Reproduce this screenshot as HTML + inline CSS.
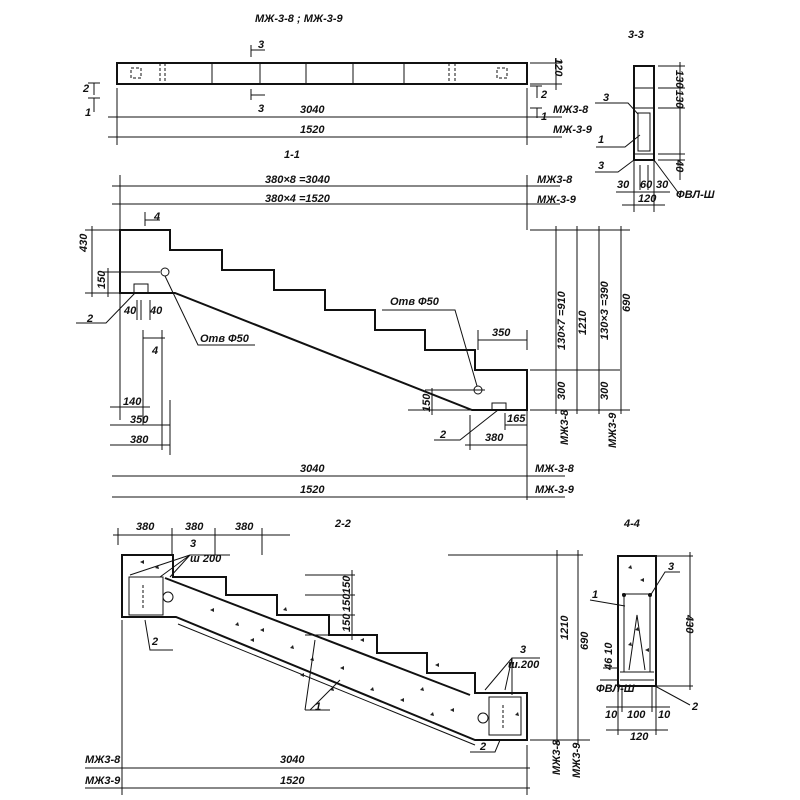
<!DOCTYPE html>
<html><head><meta charset="utf-8"><style>
html,body{margin:0;padding:0;background:#fff}
svg{display:block}
text{font-family:"Liberation Sans",sans-serif;font-style:italic;font-size:11px;fill:#111;font-weight:bold}
.t{stroke:#111;stroke-width:1;fill:none}
.b{stroke:#111;stroke-width:2;fill:none}
.d{stroke:#111;stroke-width:1;fill:none;stroke-dasharray:3 2}
.s{fill:#222;stroke:none}
</style></head><body>
<svg width="800" height="800" viewBox="0 0 800 800" xmlns="http://www.w3.org/2000/svg">
<text x="255" y="22" font-size="12">МЖ-3-8 ; МЖ-3-9</text>
<text x="628" y="38" font-size="13">3-3</text>
<rect class="b" x="117" y="63" width="410" height="21"/>
<path class="t" d="M212 63V84M260 63V84M306 63V84M353 63V84M404 63V84"/>
<path class="d" d="M160 63V84M165 63V84M449 63V84M455 63V84"/>
<rect class="d" x="131" y="68" width="10" height="10"/>
<rect class="d" x="497" y="68" width="10" height="10"/>
<path class="t" d="M251 45V57M251 50H265M251 89V100M251 95H265"/>
<text x="258" y="48">3</text><text x="258" y="112">3</text>
<path class="t" d="M88 83H100M94 83V95M88 98H100M94 98V112"/>
<text x="83" y="92">2</text><text x="85" y="116">1</text>
<path class="t" d="M530 86H542M537 86V98M530 108H542M537 108V118"/>
<text x="541" y="98">2</text><text x="541" y="120">1</text>
<path class="t" d="M530 63H562M530 84H562M556 58V90"/>
<text x="555" y="58" transform="rotate(90 555 58)" font-size="9">120</text>
<path class="t" d="M117 88V145M527 88V145M108 117H562M108 137H562"/>
<text x="300" y="113">3040</text><text x="300" y="133">1520</text>
<text x="553" y="113" font-size="9">МЖ3-8</text><text x="553" y="133" font-size="9">МЖ-3-9</text>
<text x="284" y="158" font-size="12">1-1</text>
<path class="t" d="M120 175V230M527 175V230M112 186H560M112 204H560"/>
<text x="265" y="183">380×8 =3040</text><text x="265" y="202">380×4 =1520</text>
<text x="537" y="183" font-size="9">МЖ3-8</text><text x="537" y="203" font-size="9">МЖ-3-9</text>
<path class="b" d="M120 230H170V250H222V270H274V290H325V310H375V330H425V350H475V370H527V410H472L175 293H120Z"/>
<path class="t" d="M120 230V420M408 410H472"/>
<circle class="t" cx="165" cy="272" r="4"/><circle class="t" cx="478" cy="390" r="4"/>
<rect class="t" x="134" y="284" width="14" height="9"/>
<rect class="t" x="492" y="403" width="14" height="7"/>
<path class="t" d="M145 212V226M145 220H160"/><text x="154" y="220">4</text>
<path class="t" d="M85 230H120M85 293H120M92 226V297M108 268V297M102 272H160"/>
<text x="87" y="252" transform="rotate(-90 87 252)">430</text>
<text x="105" y="289" transform="rotate(-90 105 289)" font-size="10">150</text>
<path class="t" d="M76 323H106L135 293"/><text x="87" y="322">2</text>
<path class="t" d="M137 300V320M141 300V320M150 300V320"/>
<text x="124" y="314" font-size="10">40</text><text x="150" y="314" font-size="10">40</text>
<path class="t" d="M143 330V350M143 338H165"/><text x="152" y="354">4</text>
<path class="t" d="M143 330V425M165 276L198 345H255"/>
<text x="200" y="342">Отв Ф50</text>
<path class="t" d="M382 310H455L477 386"/><text x="390" y="305">Отв Ф50</text>
<path class="t" d="M110 407H150M162 330V450M170 400V455M110 425H170M110 445H170"/>
<text x="123" y="405" font-size="10">140</text><text x="130" y="423">350</text><text x="130" y="443">380</text>
<path class="t" d="M478 340H527M478 330V350M527 330V350M432 388V415M425 390H485"/>
<text x="492" y="336">350</text>
<text x="430" y="412" transform="rotate(-90 430 412)" font-size="10">150</text>
<path class="t" d="M470 415V450M505 413V430M505 425H527M465 445H527M527 410V500"/>
<text x="507" y="422" font-size="10">165</text><text x="485" y="441">380</text>
<path class="t" d="M434 440H460L498 410"/><text x="440" y="438">2</text>
<path class="t" d="M530 230H630M530 370H620M530 410H630M556 226V414M577 226V414M599 226V414M621 226V414"/>
<text x="565" y="350" transform="rotate(-90 565 350)" font-size="10">130×7 =910</text>
<text x="586" y="335" transform="rotate(-90 586 335)" font-size="10">1210</text>
<text x="608" y="340" transform="rotate(-90 608 340)" font-size="10">130×3 =390</text>
<text x="630" y="312" transform="rotate(-90 630 312)" font-size="10">690</text>
<text x="565" y="400" transform="rotate(-90 565 400)" font-size="10">300</text>
<text x="608" y="400" transform="rotate(-90 608 400)" font-size="10">300</text>
<text x="568" y="445" transform="rotate(-90 568 445)" font-size="9">МЖ3-8</text>
<text x="616" y="448" transform="rotate(-90 616 448)" font-size="9">МЖ3-9</text>
<path class="t" d="M112 476H565M112 497H565"/>
<text x="300" y="472">3040</text><text x="300" y="493">1520</text>
<text x="535" y="472" font-size="9">МЖ-3-8</text><text x="535" y="493" font-size="9">МЖ-3-9</text>
<!-- 3-3 -->
<rect class="b" x="634" y="66" width="20" height="94"/>
<path class="t" d="M634 88H654M634 108H654M634 154H654"/>
<rect class="t" x="638" y="113" width="12" height="38"/>
<path class="t" d="M658 66H685M658 88H685M658 108H685M658 154H685M658 160H685M680 62V180"/>
<text x="676" y="70" transform="rotate(90 676 70)" font-size="9">130</text>
<text x="676" y="90" transform="rotate(90 676 90)" font-size="9">130</text>
<text x="676" y="160" transform="rotate(90 676 160)" font-size="9">40</text>
<path class="t" d="M595 103H628L638 114M596 147H625L640 135M595 172H618L634 160M654 160L680 195"/>
<text x="603" y="101">3</text><text x="598" y="143">1</text><text x="598" y="169">3</text>
<path class="t" d="M634 160V212M654 160V212M640 165V190M648 165V190M616 192H670M622 205H665"/>
<text x="617" y="188" font-size="10">30</text><text x="640" y="188" font-size="9">60</text><text x="656" y="188" font-size="10">30</text>
<text x="638" y="202" font-size="10">120</text>
<text x="676" y="198" font-size="9">ФВЛ-Ш</text>
<!-- 2-2 -->
<text x="335" y="527" font-size="13">2-2</text>
<text x="624" y="527" font-size="13">4-4</text>
<path class="t" d="M113 535H290M118 528V545M172 528V555M215 528V555M262 528V555"/>
<text x="136" y="530">380</text><text x="185" y="530">380</text><text x="235" y="530">380</text>
<path class="b" d="M122 555H173V577H226V595H277V615H329V635H377V653H427V673H475V693H527V740H475L176 617H122Z"/>
<path class="b" d="M165 578L470 695"/>
<path class="t" d="M178 624L475 745"/>
<rect class="t" x="129" y="577" width="34" height="38"/>
<rect class="t" x="489" y="697" width="32" height="38"/>
<circle class="t" cx="168" cy="597" r="5"/><circle class="t" cx="483" cy="718" r="5"/>
<path class="d" d="M143 585V608M503 705V728"/>
<g class="s">
<path d="M140 562l4 -2 0 4z M155 568l3 -3 1 4z M210 610l4-2 0 4z M235 625l3-3 1 4z M260 630l4 -2 0 4z M290 648l3-3 1 4z M250 640l4-2 0 4z M310 660l3-3 1 4z M340 668l4-2 0 4z M370 690l3-3 1 4z M400 700l4-2 0 4z M430 715l3-3 1 4z M300 675l4-2 0 4z M330 690l3-3 1 4z M360 640l4-2 0 4z M420 690l3-3 1 4z M450 710l4-2 0 4z M283 610l3-3 1 4z M435 665l4-2 0 4z M515 715l3-3 1 4z M628 568l3-3 1 4z M640 580l4-2 0 4z M635 630l3-3 1 4z M645 650l4-2 0 4z M628 645l3-3 1 4z"/>
</g>
<path class="t" d="M130 575L190 555M160 577L190 555M170 577L190 555L230 555"/>
<text x="190" y="547">3</text><text x="190" y="562" font-size="10">ш 200</text>
<path class="t" d="M485 690L512 658M505 690L512 658M512 695L512 658L540 658"/>
<text x="520" y="653">3</text><text x="508" y="668" font-size="10">ш.200</text>
<path class="t" d="M145 620L150 650H173"/><text x="152" y="645">2</text>
<path class="t" d="M500 740L495 752H470"/><text x="480" y="750">2</text>
<path class="t" d="M305 710L315 640M310 710L340 680M305 710H330"/><text x="315" y="710">1</text>
<path class="t" d="M305 575H355M305 595H355M305 615H355M305 635H355M352 570V640"/>
<text x="350" y="594" transform="rotate(-90 350 594)" font-size="9">150</text>
<text x="350" y="612" transform="rotate(-90 350 612)" font-size="9">150</text>
<text x="350" y="632" transform="rotate(-90 350 632)" font-size="9">150</text>
<path class="t" d="M448 555H583M530 740H590M557 550V745M578 550V745"/>
<text x="568" y="640" transform="rotate(-90 568 640)" font-size="10">1210</text>
<text x="588" y="650" transform="rotate(-90 588 650)" font-size="10">690</text>
<text x="560" y="775" transform="rotate(-90 560 775)" font-size="9">МЖ3-8</text>
<text x="580" y="778" transform="rotate(-90 580 778)" font-size="9">МЖ3-9</text>
<path class="t" d="M122 620V795M527 745V795M85 768H530M85 788H530"/>
<text x="280" y="763">3040</text><text x="280" y="784">1520</text>
<text x="85" y="763" font-size="9">МЖ3-8</text><text x="85" y="784" font-size="9">МЖ3-9</text>
<!-- 4-4 -->
<rect class="b" x="618" y="556" width="38" height="130"/>
<path class="t" d="M622 594H652M624 596V672M650 596V672M629 670L637 615L645 670M620 672H654M620 680H654"/>
<circle cx="624" cy="595" r="2" fill="#111"/><circle cx="650" cy="595" r="2" fill="#111"/>
<path class="t" d="M656 556H693M656 686H693M690 552V690"/>
<text x="686" y="615" transform="rotate(90 686 615)" font-size="10">430</text>
<path class="t" d="M650 596L665 572H680M625 606L590 600M655 686L690 705"/>
<text x="668" y="570">3</text><text x="592" y="598">1</text><text x="692" y="710">2</text>
<path class="t" d="M618 686V735M656 686V735M622 686V712M652 686V712M606 707H670M606 730H668M600 680H618M603 668H618"/>
<text x="605" y="718" font-size="10">10</text><text x="627" y="718" font-size="10">100</text><text x="658" y="718" font-size="10">10</text>
<text x="630" y="740" font-size="10">120</text>
<text x="596" y="692" font-size="9">ФВЛ-Ш</text>
<text x="612" y="670" transform="rotate(-90 612 670)" font-size="8">46 10</text>
</svg>
</body></html>
